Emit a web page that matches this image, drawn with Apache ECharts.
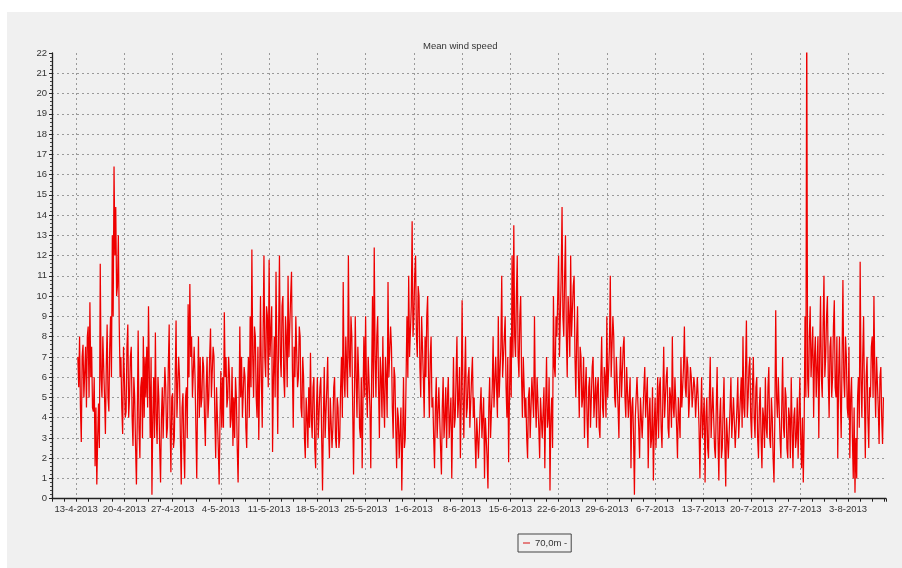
<!DOCTYPE html>
<html><head><meta charset="utf-8">
<script src="https://cdn.jsdelivr.net/npm/echarts@6/dist/echarts.min.js"></script>
<style>html,body{margin:0;padding:0;background:#fff;}#c{position:absolute;left:7px;top:12px;width:895px;height:556px;background:#f0f0f0;}</style>
</head><body><div id="c"></div>
<script>
// Day 0 = 13-4-2013 00:00. Readings every 3 hours, first at 13-4-2013 06:00.
// Each week: "a" array = readings at 06/12/18/24h marks, "b" array = readings 3 h after each.
const firstDay = 0.25;
const stepDays = 0.125;
const seriesName = '70,0m -';
const chartTitle = 'Mean wind speed';
const yTicks = [0, 22, 1];

const week01a = [7, 8, 2.8, 7.6, 5, 4.5, 8.5, 9.7, 7.5, 4.3, 1.6, 0.7, 4.7, 11.6, 5, 8, 3.2, 8.6, 4.3, 9, 13, 16.4, 14.4, 10.5, 8.7, 7, 3.2, 6];
const week01b = [5.5, 4.5, 7, 5, 7.5, 8, 5, 6, 4.5, 6, 4.5, 3, 2.5, 6, 8, 5, 6.5, 5, 7.5, 6, 9, 12, 10, 13, 6, 4.5, 7.5, 4];
const week02a = [4.3, 8.6, 5, 7.5, 2.6, 5, 0.7, 8.3, 2, 6, 8, 7, 7.5, 9.5, 3, 0.2, 6, 8.2, 2.7, 5, 0.8, 5.5, 3, 5.5, 3.5, 8.6, 1.3, 5.2];
const week02b = [7.5, 4, 7, 4, 6, 2.5, 4, 3.5, 5.5, 3, 4, 5, 4.5, 6, 7, 4, 3, 4, 6, 2.5, 4, 3, 6.5, 3, 6.5, 4, 5, 2.5];
const week03a = [3, 8.8, 4, 6, 0.7, 5.2, 1, 5.5, 9.6, 10.6, 8, 5, 6, 1, 8, 7, 5, 6.5, 2.6, 7, 5, 8.4, 5, 7, 2, 4, 0.7, 6.3];
const week03b = [6, 4, 7, 3, 4.5, 2.5, 5, 3, 6, 7, 5, 7.5, 3.5, 5, 4, 4.5, 7, 4, 5.5, 4, 7, 5, 7.5, 4, 5.5, 2.5, 4, 3.5];
const week04a = [6, 9.2, 7, 5, 6, 4, 2.6, 3, 5, 0.8, 8.5, 7, 4, 6, 2.5, 7, 9, 12.3, 5, 8, 4, 2.9, 10, 3.5, 12, 6, 9, 11.8];
const week04b = [3.5, 6, 4.5, 7, 3.5, 6.5, 5, 6, 2.5, 4, 5, 4, 6.5, 3.5, 5.5, 4, 5.5, 7, 8.5, 5, 7.5, 6, 6, 8, 7, 9.5, 5.5, 7];
const week05a = [7, 2.3, 8, 11.2, 3.2, 12, 6, 10, 5, 8, 11, 7, 11.2, 3.5, 6, 9, 6, 8, 4, 6, 2, 4, 5.5, 7.2, 3, 6, 1.5, 6];
const week05b = [9.5, 6, 5, 7, 8, 7, 9.5, 6, 9, 5.5, 7, 10, 6.5, 7.5, 9, 5.5, 8.5, 4.5, 7, 3, 5, 2.5, 3.5, 4, 5.5, 2.5, 4.5, 3];
const week06a = [3, 6, 0.4, 6.5, 3, 7, 2, 5, 3.5, 6, 2.5, 4.5, 3, 7, 10.7, 5, 8, 12, 6, 8, 1.2, 9, 4, 6, 3, 1.5, 8, 9];
const week06b = [5.5, 3, 4, 3, 5.5, 3.5, 5, 2.5, 5.5, 3, 5, 2.5, 5.5, 4, 6, 8, 5, 7, 9, 4.5, 5, 6, 7.5, 3.5, 6, 5, 5, 5.5];
const week07a = [4, 7, 1.5, 10, 12.4, 5, 9, 3, 6, 8, 3.5, 6, 10.7, 6, 7.5, 3, 6, 1.5, 4, 2, 0.4, 6, 3, 9, 11, 7, 13.7, 9];
const week07b = [7, 4.5, 6, 5, 7, 8, 5.5, 7, 4, 5, 7, 4, 6, 8.5, 4.5, 6.5, 3.5, 4.5, 2, 4.5, 3, 2.5, 6, 6, 7, 9.5, 8, 11];
const week08a = [12, 7, 10, 5, 9, 4, 6, 10, 4, 8, 5, 1.5, 6, 3, 5.5, 1.2, 6, 4, 2.5, 6, 3, 1, 7, 4, 8, 5, 2, 9.8];
const week08b = [8, 10.5, 6.5, 9, 6, 8, 9, 6, 7, 4.5, 3, 4.5, 3, 5.5, 2.5, 4.5, 3, 5.5, 5, 3, 5, 4, 3.5, 6, 4, 6.5, 5, 5];
const week09a = [3, 8, 4.5, 6.5, 3.5, 7, 5, 1.5, 4, 2, 5.5, 3, 1, 4, 0.5, 6, 3, 8, 4.5, 7, 9, 5, 11, 6, 9, 4, 1.8, 8];
const week09b = [6, 4, 6, 3.5, 6, 4, 3, 4, 2, 4.5, 3, 5, 4, 2, 4.5, 3, 5.5, 4.5, 7, 4, 5, 7.5, 6, 8, 5.5, 7, 5, 5];
const week10a = [12, 13.5, 7, 12, 6, 10, 4, 7, 5, 2, 5.5, 3, 6, 9, 3.5, 6, 2, 5, 3, 1.5, 7, 4, 0.4, 5, 10, 6, 8, 12];
const week10b = [7, 8, 10, 7, 9, 6, 7, 4, 3, 5, 3, 6, 4, 5, 6, 3.5, 5, 3, 5.5, 4.5, 3.5, 6, 4, 2.5, 6.5, 9, 10, 7];
const week11a = [7, 14.4, 8, 13, 6, 9, 12, 8, 11, 5, 9.5, 4, 7, 5, 3, 6.5, 2.5, 6, 5, 7, 4, 3.5, 6, 3, 8, 4, 6, 9];
const week11b = [11, 9, 11, 8, 10, 7, 8, 10.5, 7, 8, 6, 7.5, 4.5, 7, 5.5, 4, 5.5, 3.5, 6.5, 4, 6, 5.5, 3.5, 6, 4.5, 6.5, 4, 5];
const week12a = [5, 11, 6, 8, 4.5, 7, 3, 7.5, 5, 8, 4, 6.5, 4, 1.5, 5, 0.2, 4, 6, 2, 5, 3, 6.5, 4, 1.5, 5, 3, 0.9, 5];
const week12b = [7.5, 6, 9, 5, 7, 4.5, 6, 5, 7.5, 5, 6.5, 4, 6, 4.5, 3, 4, 6, 3.5, 5, 3, 5.5, 4, 6, 4, 2.5, 5.5, 3.5, 2.5];
const week13a = [4, 3, 6, 2.5, 7.5, 4, 6.5, 3, 5, 8, 4, 6, 2, 5, 7, 4.5, 8.5, 5, 6.5, 5, 6, 4.5, 5.5, 4, 5, 1, 6, 3];
const week13b = [6, 5.5, 3.5, 5, 4, 6, 3.5, 5.5, 3.5, 4.5, 6, 3.5, 5, 3, 4.5, 6.5, 5.5, 7, 4, 6.5, 4.5, 6, 4, 6, 3.5, 4, 3, 5];
const week14a = [0.8, 5, 2, 7, 3, 5.5, 2, 6.5, 0.9, 5, 2.5, 6, 0.6, 4, 2, 6, 3, 5, 2.5, 6, 3, 6, 8, 4, 8.8, 5, 7, 3];
const week14b = [4, 2.5, 5, 3, 5.5, 2.5, 4.5, 3, 4, 2, 4.5, 2.5, 4, 2, 4.5, 3, 5, 2.5, 4.5, 3, 5, 3.5, 4.5, 6.5, 4, 6.5, 4, 5.5];
const week15a = [7, 3, 6, 2, 5.5, 1.5, 4, 6, 3, 6.5, 2.5, 4, 0.8, 9.3, 4, 6, 2, 7, 3, 5, 2, 4, 6, 1.5, 4.5, 3, 2, 6];
const week15b = [4, 5.5, 3, 4.5, 3, 4.5, 2.5, 3.5, 5.5, 3, 5, 2, 4, 5, 6, 3, 4.5, 3.5, 5.5, 2.5, 4.5, 2, 3.5, 4, 2.5, 5, 4, 3];
const week16a = [1.5, 0.8, 9, 24, 5, 9.5, 6, 4, 8, 5, 3, 10, 5, 11, 7, 10, 4, 8, 6, 9.8, 5, 2, 8, 3, 10.8, 5, 7, 4];
const week16b = [4, 3.5, 5, 6, 8, 6, 8.5, 7, 5, 8, 7, 6, 8.5, 6, 9, 6, 7.5, 5, 8.5, 5.5, 8, 6, 5, 7, 6, 8, 4.5, 7.5];
const week17a = [2, 6, 1, 0.3, 1, 6, 11.7, 4, 9, 2, 7, 2.5, 5, 8, 10, 4, 7, 2.7, 6.5, 2.7];
const week17b = [5, 3, 4.5, 3, 5, 3.5, 6, 7, 5, 6, 4, 5.5, 7.5, 5, 6, 7, 4.5, 6, 4, 5];

const weeksA = [week01a, week02a, week03a, week04a, week05a, week06a, week07a, week08a, week09a,
  week10a, week11a, week12a, week13a, week14a, week15a, week16a, week17a];
const weeksB = [week01b, week02b, week03b, week04b, week05b, week06b, week07b, week08b, week09b,
  week10b, week11b, week12b, week13b, week14b, week15b, week16b, week17b];

const values = [];
weeksA.forEach((wa, w) => wa.forEach((v, j) => { values.push(v); values.push(weeksB[w][j]); }));
const points = values.map((v, i) => [firstDay + i * stepDays, v]);

const origin = Date.UTC(2013, 3, 13);
function dayLabel(v) {
  const k = Math.round(v / 7);
  if (Math.abs(v - k * 7) > 1e-6 || k < 0) return '';
  const d = new Date(origin + k * 7 * 86400000);
  return d.getUTCDate() + '-' + (d.getUTCMonth() + 1) + '-' + d.getUTCFullYear();
}

const clear = 'rgba(0,0,0,0)';
const gridCol = '#9a9a9a';
const font = 'Liberation Sans, Arial, sans-serif';
const chart = echarts.init(document.getElementById('c'), null, {renderer: 'canvas'});
chart.setOption({
  backgroundColor: '#f0f0f0',
  animation: false,
  title: {
    text: chartTitle, left: 411, top: 24,
    textStyle: {fontSize: 9.5, fontWeight: 'normal', color: '#333', fontFamily: font}
  },
  legend: {
    data: [{name: seriesName, icon: 'rect', itemStyle: {color: '#e05a5a'}}],
    left: 511, top: 522,
    borderColor: '#444', borderWidth: 1, padding: [4, 4, 4, 5],
    itemWidth: 7, itemHeight: 1.5, itemGap: 4,
    textStyle: {fontSize: 9.5, color: '#333', fontFamily: font}
  },
  grid: {left: 45, top: 41, right: 16, bottom: 69.3, containLabel: false},
  xAxis: {
    type: 'value', min: -3.5, max: 117.5, interval: 1.75,
    axisLine: {show: true, onZero: false, lineStyle: {color: '#222', width: 1.3}},
    axisTick: {show: true, length: 3, lineStyle: {color: '#222'}},
    axisLabel: {formatter: dayLabel, fontSize: 9.5, color: '#333', margin: 6, fontFamily: font},
    splitLine: {show: true, showMaxLine: false, lineStyle: {color: [clear, clear, gridCol, clear], type: [2, 3], width: 1}}
  },
  yAxis: {
    type: 'value', min: yTicks[0], max: yTicks[1], interval: yTicks[2],
    axisLine: {show: true, onZero: false, lineStyle: {color: '#222', width: 1.3}},
    axisTick: {show: true, length: 3, lineStyle: {color: '#222'}},
    minorTick: {show: true, splitNumber: 5, length: 2, lineStyle: {color: '#444'}},
    axisLabel: {fontSize: 9.5, color: '#333', margin: 5, fontFamily: font},
    splitLine: {show: true, showMaxLine: false, lineStyle: {color: gridCol, type: [2, 3], width: 1}}
  },
  series: [{
    name: seriesName, type: 'line', data: points,
    symbol: 'none', showSymbol: false, clip: true, sampling: null,
    lineStyle: {color: '#ee0000', width: 1.25},
    itemStyle: {color: '#ee0000'}
  }]
});
</script></body></html>
